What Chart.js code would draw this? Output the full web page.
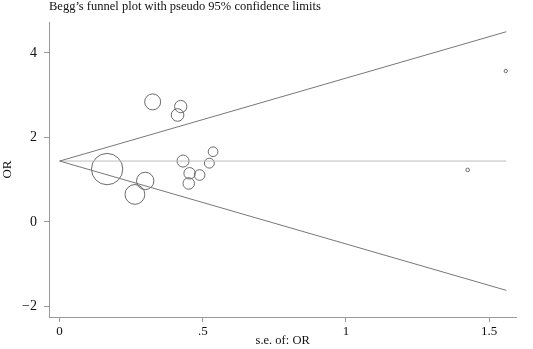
<!DOCTYPE html>
<html>
<head>
<meta charset="utf-8">
<script src="https://cdn.jsdelivr.net/npm/chart.js@4"></script>
<style>
  html, body { margin: 0; padding: 0; background: #fff; }
  #wrap { width: 533px; height: 349px; }
</style>
</head>
<body>
<div id="wrap"><canvas id="funnel"></canvas></div>
<script>
// studies: standard error vs OR
var studySe = [0.166, 0.263, 0.299, 0.325, 0.412, 0.423, 0.431, 0.451, 0.454, 0.489, 0.523, 0.536, 1.425, 1.558];
var studyOr = [1.25, 0.65, 0.97, 2.84, 2.53, 2.73, 1.44, 0.91, 1.15, 1.11, 1.39, 1.66, 1.23, 3.57];

// pseudo 95% confidence limits
var limitSe = [0, 1.56];
var pooledOr = [1.44, 1.44];
var upperLimit = [1.44, 4.50];
var lowerLimit = [1.44, -1.62];

var xTicks = [0, 0.5, 1, 1.5];
var xTickLabels = ['0', '.5', '1', '1.5'];
var yTicks = [-2, 0, 2, 4];
var yTickLabels = ['\u22122', '0', '2', '4'];

const SERIF = "'Liberation Serif', 'Times New Roman', serif";
const AXIS_GREY = '#9a9a9a';

function pts(xs, ys) {
    return xs.map(function (x, i) { return { x: x, y: ys[i] }; });
}

var titlePlugin = {
    id: 'leftTitle',
    afterDraw: function (chart) {
        var c = chart.ctx;
        c.save();
        c.font = '12.5px ' + SERIF;
        c.fillStyle = '#111';
        c.textBaseline = 'middle';
        c.fillText('Begg\u2019s funnel plot with pseudo 95% confidence limits', chart.chartArea.left, 7);
        c.restore();
    }
};

new Chart(document.getElementById('funnel'), {
    type: 'scatter',
    data: {
        datasets: [
            {
                label: 'upper',
                type: 'line',
                data: pts(limitSe, upperLimit),
                borderColor: '#777',
                borderWidth: 1,
                pointRadius: 0
            },
            {
                label: 'lower',
                type: 'line',
                data: pts(limitSe, lowerLimit),
                borderColor: '#777',
                borderWidth: 1,
                pointRadius: 0
            },
            {
                label: 'pooled',
                type: 'line',
                data: pts(limitSe, pooledOr),
                borderColor: '#bdbdbd',
                borderWidth: 1,
                pointRadius: 0
            },
            {
                label: 'studies',
                data: pts(studySe, studyOr),
                backgroundColor: 'rgba(0,0,0,0)',
                borderColor: '#6a6a6a',
                borderWidth: 1,
                pointRadius: function (ctx) {
                    return 2.6 / ctx.raw.x;
                }
            }
        ]
    },
    options: {
        responsive: true,
        maintainAspectRatio: false,
        animation: false,
        layout: { padding: { top: 22, right: 2, left: 0, bottom: 0 } },
        plugins: {
            legend: { display: false },
            tooltip: { enabled: false }
        },
        scales: {
            x: {
                type: 'linear',
                min: -0.037,
                max: 1.595,
                afterBuildTicks: function (s) {
                    s.ticks = xTicks.map(function (v) { return { value: v }; });
                },
                afterFit: function (s) { s.height = 32; },
                ticks: {
                    callback: function (v) { return xTickLabels[xTicks.indexOf(v)]; },
                    font: { family: SERIF, size: 13 },
                    color: '#111',
                    padding: 2,
                    maxRotation: 0
                },
                grid: {
                    drawOnChartArea: false,
                    tickLength: 5,
                    color: AXIS_GREY
                },
                border: { color: AXIS_GREY },
                title: {
                    display: true,
                    text: 's.e. of: OR',
                    font: { family: SERIF, size: 12.5 },
                    color: '#111',
                    padding: { top: 0, bottom: 1 }
                }
            },
            y: {
                type: 'linear',
                min: -2.25,
                max: 4.73,
                afterBuildTicks: function (s) {
                    s.ticks = yTicks.map(function (v) { return { value: v }; });
                },
                afterFit: function (s) { s.width = 49; },
                ticks: {
                    callback: function (v) { return yTickLabels[yTicks.indexOf(v)]; },
                    font: { family: SERIF, size: 14 },
                    color: '#111',
                    padding: 7
                },
                grid: {
                    drawOnChartArea: false,
                    tickLength: 5,
                    color: AXIS_GREY
                },
                border: { color: AXIS_GREY },
                title: {
                    display: true,
                    text: 'OR',
                    font: { family: SERIF, size: 13 },
                    color: '#111',
                    padding: { top: 0, bottom: 0 }
                }
            }
        }
    },
    plugins: [titlePlugin]
});
</script>
</body>
</html>
